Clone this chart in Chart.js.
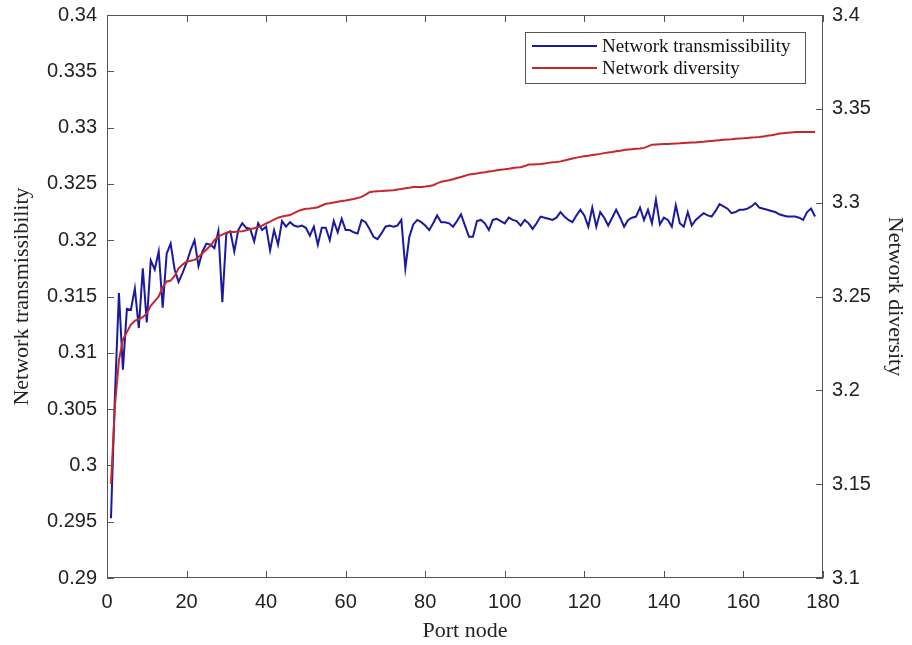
<!DOCTYPE html>
<html>
<head>
<meta charset="utf-8">
<script src="https://cdn.jsdelivr.net/npm/chart.js@4"></script>
<style>
  body { margin: 0; background: #fff; }
</style>
</head>
<body>
<canvas id="myChart" width="912" height="645"></canvas>
<script>
// network transmissibility, port nodes 1..178 (left axis)
var transmissibility = [
  0.2953, 0.3063, 0.3153, 0.3085, 0.3139, 0.3138, 0.3157, 0.3122, 0.3175, 0.3127,
  0.3182, 0.3174, 0.3190, 0.3140, 0.3188, 0.3197, 0.3174, 0.3163, 0.3171, 0.3180,
  0.3191, 0.3200, 0.3177, 0.3190, 0.3197, 0.3196, 0.3193, 0.3208, 0.3145, 0.3206,
  0.3208, 0.3190, 0.3209, 0.3215, 0.3211, 0.3210, 0.3199, 0.3215, 0.3209, 0.3212,
  0.3191, 0.3209, 0.3196, 0.3217, 0.3212, 0.3216, 0.3213, 0.3212, 0.3213, 0.3211,
  0.3204, 0.3212, 0.3196, 0.3211, 0.3211, 0.3200, 0.3217, 0.3207, 0.3219, 0.3209,
  0.3209, 0.3207, 0.3206, 0.3218, 0.3216, 0.3210, 0.3203, 0.3201, 0.3206, 0.3212,
  0.3213, 0.3212, 0.3213, 0.3218, 0.3175, 0.3203, 0.3214, 0.3218, 0.3216, 0.3213,
  0.3209, 0.3215, 0.3222, 0.3216, 0.3216, 0.3215, 0.3212, 0.3217, 0.3223, 0.3213,
  0.3203, 0.3203, 0.3217, 0.3218, 0.3215, 0.3209, 0.3218, 0.3219, 0.3217, 0.3215,
  0.3220, 0.3218, 0.3217, 0.3213, 0.3218, 0.3215, 0.3210, 0.3215, 0.3221, 0.3220,
  0.3219, 0.3218, 0.3220, 0.3225, 0.3221, 0.3218, 0.3216, 0.3222, 0.3227, 0.3222,
  0.3212, 0.3229, 0.3212, 0.3225, 0.3220, 0.3213, 0.3220, 0.3227, 0.3220, 0.3212,
  0.3218, 0.3220, 0.3221, 0.3229, 0.3218, 0.3227, 0.3215, 0.3236, 0.3214, 0.3220,
  0.3218, 0.3212, 0.3231, 0.3215, 0.3212, 0.3225, 0.3213, 0.3218, 0.3221, 0.3224,
  0.3222, 0.3221, 0.3226, 0.3232, 0.3230, 0.3228, 0.3224, 0.3225, 0.3227, 0.3227,
  0.3228, 0.3230, 0.3233, 0.3229, 0.3228, 0.3227, 0.3226, 0.3225, 0.3223, 0.3222,
  0.3221, 0.3221, 0.3221, 0.3220, 0.3218, 0.3225, 0.3228, 0.3221
];

// network diversity (right axis)
var diversity = [
  3.150, 3.192, 3.216, 3.227, 3.231, 3.235, 3.237, 3.238, 3.239, 3.241,
  3.245, 3.2475, 3.250, 3.255, 3.258, 3.2585, 3.261, 3.265, 3.267, 3.2685,
  3.269, 3.2695, 3.271, 3.273, 3.275, 3.277, 3.280, 3.282, 3.283, 3.284,
  3.2844, 3.2844, 3.2846, 3.2848, 3.2853, 3.2859, 3.2864, 3.2869, 3.2878, 3.2889,
  3.2899, 3.2910, 3.2920, 3.2926, 3.2930, 3.2934, 3.2944, 3.2955, 3.2962, 3.2967,
  3.2969, 3.2972, 3.2976, 3.2985, 3.2994, 3.2997, 3.3001, 3.3005, 3.3009, 3.3012,
  3.3016, 3.3020, 3.3025, 3.3031, 3.3043, 3.3056, 3.3059, 3.3061, 3.3062, 3.3064,
  3.3065, 3.3066, 3.3070, 3.3073, 3.3077, 3.3080, 3.3084, 3.3084, 3.3084, 3.3086,
  3.3089, 3.3093, 3.3103, 3.3112, 3.3115, 3.3119, 3.3125, 3.3131, 3.3137, 3.3143,
  3.3150, 3.3153, 3.3156, 3.3159, 3.3162, 3.3166, 3.3169, 3.3173, 3.3176, 3.3178,
  3.3181, 3.3185, 3.3187, 3.3189, 3.3195, 3.3203, 3.3204, 3.3205, 3.3206, 3.3209,
  3.3212, 3.3215, 3.3217, 3.3220, 3.3225, 3.3230, 3.3235, 3.3240, 3.3244, 3.3247,
  3.3250, 3.3254, 3.3257, 3.3260, 3.3264, 3.3267, 3.3270, 3.3274, 3.3277, 3.3281,
  3.3283, 3.3285, 3.3287, 3.3289, 3.3292, 3.3300, 3.3309, 3.3310, 3.3311, 3.3312,
  3.3313, 3.3314, 3.3315, 3.3316, 3.3318, 3.3319, 3.3320, 3.3321, 3.3323, 3.3325,
  3.3327, 3.3329, 3.3331, 3.3333, 3.3335, 3.3337, 3.3338, 3.3340, 3.3342, 3.3343,
  3.3345, 3.3347, 3.3348, 3.3350, 3.3353, 3.3356, 3.3359, 3.3363, 3.3368, 3.3370,
  3.3372, 3.3374, 3.3376, 3.3377, 3.3377, 3.3377, 3.3377, 3.3377
];

// port node index, 1-based
var portNodes = transmissibility.map(function (v, i) { return i + 1; });

var xTicks = [0, 20, 40, 60, 80, 100, 120, 140, 160, 180];
var leftTicks = [0.29, 0.295, 0.3, 0.305, 0.31, 0.315, 0.32, 0.325, 0.33, 0.335, 0.34];
var rightTicks = [3.1, 3.15, 3.2, 3.25, 3.3, 3.35, 3.4];

var tickFont = { family: 'Liberation Sans, Arial', size: 20 };
var serifFont = { family: 'Liberation Serif, Times New Roman', size: 22 };

function fmt(v) { return String(Number(v.toFixed(3))); }

// box round the plot with inward tick marks, like the MATLAB default axes
var frame = {
  id: 'frame',
  afterDraw: function (chart) {
    var c = chart.ctx, a = chart.chartArea, s = chart.scales, len = 7;
    c.save();
    c.strokeStyle = '#555';
    c.lineWidth = 1;
    c.strokeRect(Math.round(a.left) + 0.5, Math.round(a.top) + 0.5,
      Math.round(a.right - a.left) - 1, Math.round(a.bottom - a.top) - 1);
    c.beginPath();
    xTicks.forEach(function (t) {
      var x = Math.round(s.x.getPixelForValue(t)) + 0.5;
      c.moveTo(x, a.bottom); c.lineTo(x, a.bottom - len);
      c.moveTo(x, a.top); c.lineTo(x, a.top + len);
    });
    leftTicks.forEach(function (t) {
      var y = Math.round(s.y.getPixelForValue(t)) + 0.5;
      c.moveTo(a.left, y); c.lineTo(a.left + len, y);
    });
    rightTicks.forEach(function (t) {
      var y = Math.round(s.y1.getPixelForValue(t)) + 0.5;
      c.moveTo(a.right, y); c.lineTo(a.right - len, y);
    });
    c.stroke();
    c.restore();
  }
};

// legend box in the upper right of the plot
var legendBox = {
  id: 'legendBox',
  afterDraw: function (chart) {
    var c = chart.ctx, a = chart.chartArea;
    var bx = Math.round(a.right) - 298, by = Math.round(a.top) + 17, bw = 280, bh = 51;
    c.save();
    c.fillStyle = '#fff';
    c.fillRect(bx, by, bw, bh);
    c.strokeStyle = '#555';
    c.lineWidth = 1;
    c.strokeRect(bx + 0.5, by + 0.5, bw, bh);
    c.font = '19px "Liberation Serif", "Times New Roman", serif';
    c.textBaseline = 'middle';
    chart.data.datasets.forEach(function (ds, i) {
      var y = by + 14 + i * 22;
      c.strokeStyle = ds.borderColor;
      c.lineWidth = 2;
      c.beginPath();
      c.moveTo(bx + 7, y);
      c.lineTo(bx + 72, y);
      c.stroke();
      c.fillStyle = '#111';
      c.fillText(ds.label, bx + 77, y + 1);
    });
    c.restore();
  }
};

// fixed axis sizes so the plot box lands where the reference has it
function fixVertical(w) {
  return function (s) { s.width = w; s.paddingTop = 0; s.paddingBottom = 0; };
}

var ctx = document.getElementById('myChart').getContext('2d');
var myChart = new Chart(ctx, {
  type: 'line',
  data: {
    labels: portNodes,
    datasets: [{
      label: 'Network transmissibility',
      data: transmissibility,
      borderColor: '#1a1a9e',
      borderWidth: 2,
      pointRadius: 0,
      tension: 0,
      yAxisID: 'y',
      order: 1
    }, {
      label: 'Network diversity',
      data: diversity,
      borderColor: '#c4282c',
      borderWidth: 2,
      pointRadius: 0,
      tension: 0,
      yAxisID: 'y1',
      order: 0
    }]
  },
  options: {
    responsive: false,
    animation: false,
    layout: { padding: { top: 15, left: 0, right: 0, bottom: 0 } },
    plugins: {
      legend: { display: false },
      tooltip: { enabled: false }
    },
    scales: {
      x: {
        type: 'linear',
        min: 0,
        max: 180,
        afterBuildTicks: function (s) { s.ticks = xTicks.map(function (v) { return { value: v }; }); },
        afterFit: function (s) { s.height = 67; },
        grid: { display: false, drawTicks: false },
        border: { display: false },
        ticks: { font: tickFont, color: '#222', padding: 12, maxRotation: 0 },
        title: { display: true, text: 'Port node', font: serifFont, color: '#222', padding: { top: 0, bottom: 1 } }
      },
      y: {
        position: 'left',
        min: 0.29,
        max: 0.34,
        afterBuildTicks: function (s) { s.ticks = leftTicks.map(function (v) { return { value: v }; }); },
        afterFit: fixVertical(107),
        grid: { display: false, drawTicks: false },
        border: { display: false },
        ticks: { font: tickFont, color: '#222', padding: 10, callback: fmt },
        title: { display: true, text: 'Network transmissibility', font: serifFont, color: '#222', padding: { top: 9, bottom: 0 } }
      },
      y1: {
        position: 'right',
        min: 3.1,
        max: 3.4,
        afterBuildTicks: function (s) { s.ticks = rightTicks.map(function (v) { return { value: v }; }); },
        afterFit: fixVertical(89),
        grid: { display: false, drawTicks: false },
        border: { display: false },
        ticks: { font: tickFont, color: '#222', padding: 9, callback: fmt },
        title: { display: true, text: 'Network diversity', font: serifFont, color: '#222', padding: { top: 4, bottom: 0 } }
      }
    }
  },
  plugins: [frame, legendBox]
});
</script>
</body>
</html>
